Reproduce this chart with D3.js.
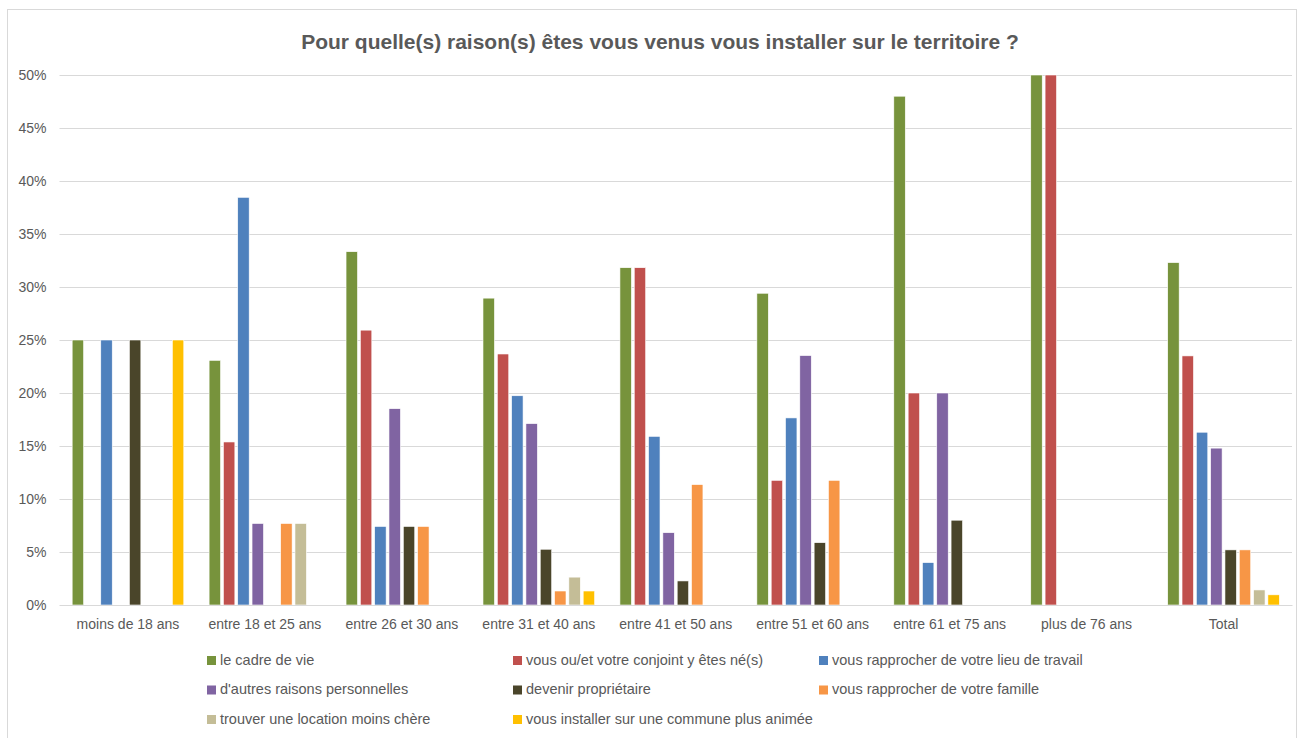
<!DOCTYPE html>
<html>
<head>
<meta charset="utf-8">
<script src="https://cdn.jsdelivr.net/npm/d3@7"></script>
<style>
  body { margin: 0; background: #fff; }
  text { font-family: "Liberation Sans", Arial, sans-serif; fill: #595959; }
</style>
</head>
<body>
<svg id="chart" width="1300" height="738"></svg>
<script>
// age groups
const categories = ["moins de 18 ans", "entre 18 et 25 ans", "entre 26 et 30 ans", "entre 31 et 40 ans",
  "entre 41 et 50 ans", "entre 51 et 60 ans", "entre 61 et 75 ans", "plus de 76 ans", "Total"]

const seriesNames = ["le cadre de vie", "vous ou/et votre conjoint y êtes né(s)",
  "vous rapprocher de votre lieu de travail", "d'autres raisons personnelles",
  "devenir propriétaire", "vous rapprocher de votre famille",
  "trouver une location moins chère", "vous installer sur une commune plus animée"]

const seriesColors = ["#77933C", "#C0504D", "#4F81BD", "#8064A2", "#4A452A", "#F79646", "#C4BD97", "#FFC000"]

// values in %, one array per series, in category order
const cadreDeVie   = [25, 23.08, 33.33, 28.95, 31.82, 29.41, 48, 50, 32.3]
const neIci        = [0, 15.38, 25.93, 23.68, 31.82, 11.76, 20, 50, 23.5]
const travail      = [25, 38.46, 7.41, 19.74, 15.91, 17.65, 4, 0, 16.3]
const autres       = [0, 7.69, 18.52, 17.11, 6.82, 23.53, 20, 0, 14.8]
const proprietaire = [25, 0, 7.41, 5.26, 2.27, 5.88, 8, 0, 5.2]
const famille      = [0, 7.69, 7.41, 1.32, 11.36, 11.76, 0, 0, 5.2]
const locMoinsChere = [0, 7.69, 0, 2.63, 0, 0, 0, 0, 1.42]
const communeAnimee = [25, 0, 0, 1.32, 0, 0, 0, 0, 0.96]

const seriesValues = [cadreDeVie, neIci, travail, autres, proprietaire, famille, locMoinsChere, communeAnimee]
const yTicks = [0, 5, 10, 15, 20, 25, 30, 35, 40, 45, 50]

const svg = d3.select("#chart")

// outer frame
svg.append("rect")
  .attr("x", 7.5).attr("y", 9.5).attr("width", 1289).attr("height", 740)
  .attr("style", "fill: none; stroke: #d9d9d9; stroke-width: 1")

svg.append("text")
  .attr("x", 660).attr("y", 49)
  .attr("text-anchor", "middle")
  .attr("font-size", "21px").attr("font-weight", "bold")
  .text("Pour quelle(s) raison(s) êtes vous venus vous installer sur le territoire ?")

const plotLeft = 59.5, plotRight = 1292, plotTop = 75, plotBottom = 605

const x = d3.scaleBand().domain(categories).range([plotLeft, plotRight]).paddingInner(0).paddingOuter(0)
const y = d3.scaleLinear().domain([0, 50]).range([plotBottom, plotTop])
const groupWidth = 114.5
const xs = d3.scaleBand().domain(d3.range(seriesNames.length)).range([0, groupWidth]).paddingInner(0.2).paddingOuter(0.1)

// gridlines + y labels
const yAxis = d3.axisLeft(y).tickValues(yTicks).tickFormat(d => d + "%").tickSize(-(plotRight - plotLeft)).tickPadding(13)
const gy = svg.append("g").attr("transform", "translate(" + plotLeft + ",0)").call(yAxis)
gy.select(".domain").remove()
gy.selectAll(".tick line").attr("stroke", "#d9d9d9").attr("stroke-width", 1)
gy.selectAll(".tick text").attr("font-size", "14px").attr("fill", "#595959")
  .attr("font-family", "Liberation Sans, Arial, sans-serif")

// bars
seriesValues.forEach(function(vals, s) {
  svg.append("g").selectAll("rect")
    .data(vals.map((v, i) => ({ cat: categories[i], v: v })).filter(d => d.v > 0))
    .join("rect")
    .attr("x", d => x(d.cat) + (x.bandwidth() - groupWidth) / 2 + xs(s))
    .attr("y", d => y(d.v))
    .attr("width", xs.bandwidth())
    .attr("height", d => plotBottom - y(d.v))
    .attr("fill", seriesColors[s])
    .attr("stroke", "#fff").attr("stroke-width", 0.6)
})

// x axis
const xAxis = d3.axisBottom(x).tickSize(0).tickPadding(14)
const gx = svg.append("g").attr("transform", "translate(0," + plotBottom + ")").call(xAxis)
gx.select(".domain").attr("stroke", "#d9d9d9")
gx.selectAll(".tick text").attr("font-size", "14px").attr("fill", "#595959")
  .attr("font-family", "Liberation Sans, Arial, sans-serif")

// legend, 3 columns
const legend = svg.append("g")
seriesNames.forEach(function(name, i) {
  const col = i % 3, row = Math.floor(i / 3)
  const lx = 207 + col * 306, ly = 661 + row * 29.5
  legend.append("rect").attr("x", lx).attr("y", ly - 5).attr("width", 9).attr("height", 9)
    .attr("fill", seriesColors[i])
  legend.append("text").attr("x", lx + 13).attr("y", ly).attr("dominant-baseline", "middle")
    .attr("font-size", "14.5px").text(name)
})
</script>
</body>
</html>
